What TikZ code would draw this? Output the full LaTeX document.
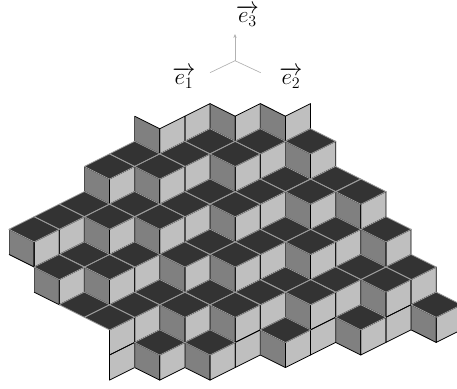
\documentclass[tikz,border=0pt]{standalone}
\usepackage{amsmath}
\usetikzlibrary{arrows.meta}
\definecolor{topc}{gray}{0.2}
\definecolor{leftc}{gray}{0.5}
\definecolor{rightc}{gray}{0.75}
\definecolor{axisc}{gray}{0.7}
\definecolor{rimc}{gray}{0.6}
\newcommand{\px}{0.0263}
\tikzset{
  x=\px cm,y=-\px cm,
  grid/.style={x=25.13*\px cm,y=-12.57*\px cm,shift={(9*\px cm,-229.3*\px cm)}},
  axisline/.style={draw=axisc,line width=0.5pt},
  axislabel/.style={inner sep=0pt,font=\LARGE},
}
% D: dark top face, L: medium left face, R: light right face; (k,j) is the left/top-left vertex
\newcommand{\faceD}[2]{\fill[topc] (#1,#2) -- ++(1,-1) -- ++(1,1) -- ++(-1,1) -- cycle;}
\newcommand{\faceL}[2]{\fill[leftc] (#1,#2) -- ++(1,1) -- ++(0,2) -- ++(-1,-1) -- cycle;}
\newcommand{\faceR}[2]{\fill[rightc] (#1,#2) -- ++(1,-1) -- ++(0,2) -- ++(-1,1) -- cycle;}
\newcommand{\edgeL}[2]{\draw[black,line width=0.6pt,line join=round] (#1,#2) -- ++(1,1) -- ++(0,2) -- ++(-1,-1);\draw[black!70,line width=0.6pt] (#1,#2) -- ++(0,2);}
\newcommand{\edgeR}[2]{\draw[black,line width=0.6pt,line join=round] (#1,#2) -- ++(1,-1) -- ++(0,2) -- ++(-1,1) -- cycle;}
\newcommand{\edgeD}[2]{\draw[rimc,line width=0.6pt,line join=round] (#1,#2) -- ++(1,-1) -- ++(1,1) -- ++(-1,1) -- cycle;}
\begin{document}
\begin{tikzpicture}
\useasboundingbox (0,0) rectangle (457,388);
\clip (0,0) rectangle (457,388);
\begin{scope}[grid]
\foreach \k/\j in {5/-9,8/-10,10/-10,3/-5,5/-5,8/-6,11/-7,8/-2,11/-3,13/-3,0/0,3/-1,5/-1,14/0,8/2,11/1,6/2,1/3,3/3,14/4,8/6,11/5,6/6,13/7,16/6,10/8,5/9,7/9} {\faceL{\k}{\j}}
\foreach \k/\j in {6/-8,7/-9,9/-9,11/-9,4/-4,6/-4,7/-5,9/-5,10/-6,12/-6,7/-1,9/-1,10/-2,12/-2,14/-2,1/1,2/0,4/0,6/0,9/3,10/2,12/2,13/1,15/1,7/3,2/4,4/4,5/3,9/7,10/6,12/6,13/5,15/5,16/4,17/7,14/8,15/7,12/8,11/9,9/9,8/10,4/8,5/7,7/7,4/10,6/10} {\faceR{\k}{\j}}
\foreach \k/\j in {4/-6,3/-5,5/-5,6/-6,7/-7,8/-6,9/-7,11/-7,7/-3,9/-3,10/-4,11/-3,12/-4,13/-3,8/-2,0/0,1/-1,2/-2,3/-1,4/-2,5/-1,6/-2,14/0,10/0,12/0,9/1,11/1,7/1,6/2,1/3,2/2,3/3,4/2,8/2,9/5,10/4,11/5,12/4,13/3,14/4,15/3,2/6,3/7,4/6,5/5,6/6,7/5,8/6,16/6,13/7,10/8,5/9,7/9} {\faceD{\k}{\j}}
\foreach \k/\j in {6/-8,7/-9,9/-9,11/-9,4/-4,6/-4,7/-5,9/-5,10/-6,12/-6,7/-1,9/-1,10/-2,12/-2,14/-2,1/1,2/0,4/0,6/0,9/3,10/2,12/2,13/1,15/1,7/3,2/4,4/4,5/3,9/7,10/6,12/6,13/5,15/5,16/4,17/7,14/8,15/7,12/8,11/9,9/9,8/10,4/8,5/7,7/7,4/10,6/10} {\edgeR{\k}{\j}}
\foreach \k/\j in {5/-9,8/-10,10/-10,3/-5,5/-5,8/-6,11/-7,8/-2,11/-3,13/-3,0/0,3/-1,5/-1,14/0,8/2,11/1,6/2,1/3,3/3,14/4,8/6,11/5,6/6,13/7,16/6,10/8,5/9,7/9} {\edgeL{\k}{\j}}
\foreach \k/\j in {4/-6,3/-5,5/-5,6/-6,7/-7,8/-6,9/-7,11/-7,7/-3,9/-3,10/-4,11/-3,12/-4,13/-3,8/-2,0/0,1/-1,2/-2,3/-1,4/-2,5/-1,6/-2,14/0,10/0,12/0,9/1,11/1,7/1,6/2,1/3,2/2,3/3,4/2,8/2,9/5,10/4,11/5,12/4,13/3,14/4,15/3,2/6,3/7,4/6,5/5,6/6,7/5,8/6,16/6,13/7,10/8,5/9,7/9} {\edgeD{\k}{\j}}
\end{scope}
\coordinate (o) at (235,60.7);
\coordinate (a) at (235,34);
\coordinate (b) at (210,72.7);
\coordinate (c) at (260.7,72.7);
\draw[axisline,-{Stealth[length=3pt,width=2.5pt]}] (o) -- (a);
\draw[axisline] (o) -- (b);
\draw[axisline] (o) -- (c);
\node[axislabel] (e3) at (247.5,15.5) {$\overrightarrow{e_3}$};
\node[axislabel] (e1) at (184,77.5) {$\overrightarrow{e_1}$};
\node[axislabel] (e2) at (291,77.5) {$\overrightarrow{e_2}$};
\end{tikzpicture}
\end{document}
